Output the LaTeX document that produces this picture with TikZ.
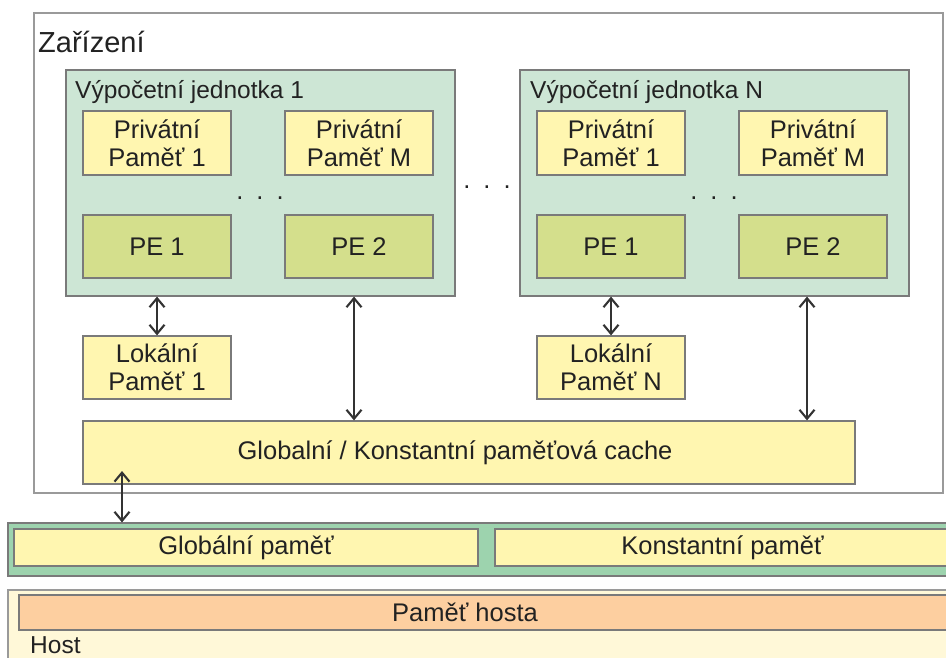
\documentclass[tikz,border=0pt]{standalone}
\usepackage{fontspec}
\setmainfont{Liberation Sans}
\usetikzlibrary{arrows.meta}

\definecolor{unitgreen}{HTML}{CDE6D5}
\definecolor{memyellow}{HTML}{FFF6B0}
\definecolor{peolive}{HTML}{D4DF8C}
\definecolor{bandgreen}{HTML}{9DD3AE}
\definecolor{hostorange}{HTML}{FDCFA0}
\definecolor{hostcream}{HTML}{FFF8D8}
\definecolor{framegray}{HTML}{9A9A9A}
\definecolor{edgegray}{HTML}{7A7A7A}
\definecolor{arrowgray}{HTML}{333333}
\definecolor{labelgray}{HTML}{222222}

\begin{document}
\begin{tikzpicture}[x=1pt, y=-1pt,
	            every node/.style={
	            inner sep=0pt,
	            align=center,
	            text=labelgray,
	            font=\fontsize{25.5}{28}\selectfont,
	            },
	            box/.style={draw=edgegray, line width=1.2pt},
	            mem/.style={box, fill=memyellow, minimum width=148pt, minimum height=64pt},
	            pe/.style={box, fill=peolive, minimum width=148pt, minimum height=63pt},
	            unit/.style={box, fill=unitgreen, minimum width=389pt, minimum height=226pt},
	            title/.style={anchor=base west, font=\fontsize{24.5}{28}\selectfont},
	            >={Straight Barb[length=9pt, width=15pt]},
	            link/.style={draw=arrowgray, line width=2.1pt}]

	        \useasboundingbox (0,0) rectangle (946,658);
	        \clip (0,0) rectangle (946,658);

	        % zarizeni
	        \node[draw=framegray, line width=1.2pt, minimum width=909pt, minimum height=480pt] (dev) at (488.5,253) {};
	        \node[title, font=\fontsize{29}{32}\selectfont] (devtitle) at (38,53) {Zařízení};

	        \node[unit] (unit1) at (260.5,183) {};
	        \node[unit] (unitN) at (714.5,183) {};
	        \node[title] (title1) at (75,99) {Výpočetní jednotka 1};
	        \node[title] (titleN) at (530,99) {Výpočetní jednotka N};

	        \node[mem] (priv11) at (157,143) {Privátní\\Paměť 1};
	        \node[mem] (priv1M) at (359,143) {Privátní\\Paměť M};
	        \node[mem] (privN1) at (611,143) {Privátní\\Paměť 1};
	        \node[mem] (privNM) at (813,143) {Privátní\\Paměť M};

	        \node[pe] (pe11) at (157,246.5) {PE 1};
	        \node[pe] (pe12) at (359,246.5) {PE 2};
	        \node[pe] (peN1) at (611,246.5) {PE 1};
	        \node[pe] (peN2) at (813,246.5) {PE 2};

	        \node (dots1) at (260,198) {.\hspace{13pt}.\hspace{13pt}.};
	        \node (dotsN) at (714,198) {.\hspace{13pt}.\hspace{13pt}.};
	        \node (dotsU) at (487,187) {.\hspace{13pt}.\hspace{13pt}.};

	        \node[mem, minimum height=63pt] (lok1) at (157,367.5) {Lokální\\Paměť 1};
	        \node[mem, minimum height=63pt] (lokN) at (611,367.5) {Lokální\\Paměť N};

	        \node[box, fill=memyellow, minimum width=772pt, minimum height=63pt] (cache) at (469,452.5) {Globalní / Konstantní paměťová cache\hspace*{28pt}};

	        % globalni pamet
	        \node[box, fill=bandgreen, minimum width=944pt, minimum height=53pt] (band) at (480,549.5) {};
	        \node[box, fill=memyellow, minimum width=464pt, minimum height=37pt] (glob) at (246,547.5) {Globální paměť};
	        \node[box, fill=memyellow, minimum width=455pt, minimum height=37pt] (konst) at (722.5,547.5) {Konstantní paměť};

	        % host
	        \node[draw=framegray, line width=1.2pt, fill=hostcream, minimum width=944pt, minimum height=80pt] (host) at (480,630) {};
	        \node[box, fill=hostorange, minimum width=933pt, minimum height=35pt] (hostmem) at (485.5,612.5) {};
	        \node (hostmemtext) at (465,612.5) {Paměť hosta};
	        \node[title] (hosttitle) at (30,653) {Host};

	        \coordinate (bus1) at (354,0);
	        \coordinate (busN) at (807,0);
	        \coordinate (cachelink) at (122,471);

	        \draw[<->, link] (lok1.north |- unit1.south) -- (lok1.north);
	        \draw[<->, link] (lokN.north |- unitN.south) -- (lokN.north);
	        \draw[<->, link] (bus1 |- unit1.south) -- (bus1 |- cache.north);
	        \draw[<->, link] (busN |- unitN.south) -- (busN |- cache.north);
	        \draw[<->, link] (cachelink) -- (cachelink |- band.north);

	    \end{tikzpicture}
\end{document}
